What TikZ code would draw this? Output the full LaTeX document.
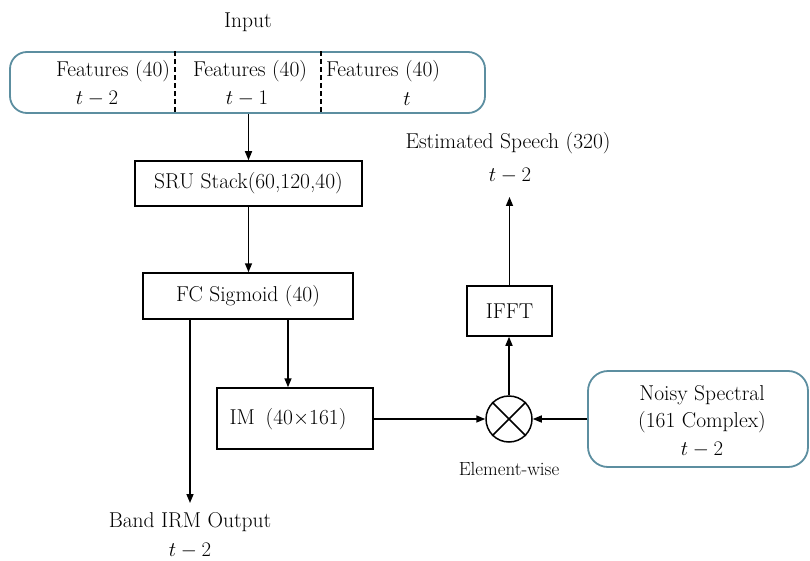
\documentclass[tikz,border=0pt]{standalone}
\usetikzlibrary{arrows.meta}
\definecolor{tealedge}{RGB}{92,142,160}
\begin{document}
\begin{tikzpicture}[x=1pt,y=-1pt,
  font=\fontsize{21.5}{27.5}\selectfont,
  box/.style={draw, line width=1.5pt, inner sep=0pt},
  rbox/.style={draw=tealedge, line width=1.8pt, inner sep=0pt},
  arr/.style={-{Triangle[length=9pt,width=7pt]}, line width=1.5pt},
  divider/.style={line width=1.5pt, dash pattern=on 5pt off 3pt},
  lbl/.style={inner sep=0pt}]
\useasboundingbox (0,0) rectangle (810,561);

% input
\node[lbl] (intxt) at (248,22) {Input};
\node[rbox, rounded corners=17pt, minimum width=475pt, minimum height=61pt] (inp) at (247.5,82.5) {};
\coordinate (d1) at (175,0);
\coordinate (d2) at (321,0);
\draw[divider] (d1 |- inp.north) -- (d1 |- inp.south);
\draw[divider] (d2 |- inp.north) -- (d2 |- inp.south);
\node[lbl] (f1) at (113,71) {Features (40)};
\node[lbl] (t1) at (97,99) {$t-2$};
\node[lbl] (f2) at (250,71) {Features (40)};
\node[lbl] (t2) at (247,99) {$t-1$};
\node[lbl] (f3) at (383,71) {Features (40)};
\node[lbl] (t3) at (407,99) {$t$};

% main chain
\node[box, minimum width=227pt, minimum height=45pt] (sru) at (248.5,183.5) {SRU Stack(60,120,40)};
\node[box, minimum width=210pt, minimum height=46pt] (fc) at (248,296) {FC Sigmoid (40)};
\draw[arr] (inp.south -| sru.north) -- (sru.north);
\draw[arr] (sru.south) -- (sru.south |- fc.north);

% band IRM output
\coordinate (band) at (190,503);
\draw[arr] (band |- fc.south) -- (band);
\node[lbl] (bandtxt) at (190,522) {Band IRM Output};
\node[lbl] (bandt) at (190,551) {$t-2$};

% IM
\node[box, minimum width=156pt, minimum height=61pt] (im) at (295,418.5) {};
\node[lbl] (imtxt) at (288,419) {IM\enspace(40$\times$161)};
\draw[arr] (fc.south -| imtxt) -- (im.north -| imtxt);

% multiplier
\node[draw, circle, line width=1.5pt, minimum size=46pt, inner sep=0pt] (mul) at (509,419) {};
\draw[line width=1.5pt] (mul.north west) -- (mul.south east);
\draw[line width=1.5pt] (mul.north east) -- (mul.south west);
\node[lbl, font=\fontsize{19}{22}\selectfont] (ew) at (509,469) {Element-wise};
\draw[arr] (im.east |- mul.west) -- (mul.west);

% noisy spectral
\node[rbox, rounded corners=20pt, minimum width=220pt, minimum height=96pt] (noisy) at (698,419) {};
\node[lbl, align=center] (noisytxt) at (702,421) {Noisy Spectral\\(161 Complex)\\$t-2$};
\draw[arr] (noisy.west) -- (mul.east);

% IFFT and output
\node[box, minimum width=85pt, minimum height=50pt] (ifft) at (509.5,311) {IFFT};
\draw[arr] (mul.north) -- (mul.north |- ifft.south);
\node[lbl] (est) at (508,143) {Estimated Speech (320)};
\node[lbl] (estt) at (510,176) {$t-2$};
\coordinate (esttip) at (509.5,197);
\draw[arr] (ifft.north) -- (esttip);
\end{tikzpicture}
\end{document}
